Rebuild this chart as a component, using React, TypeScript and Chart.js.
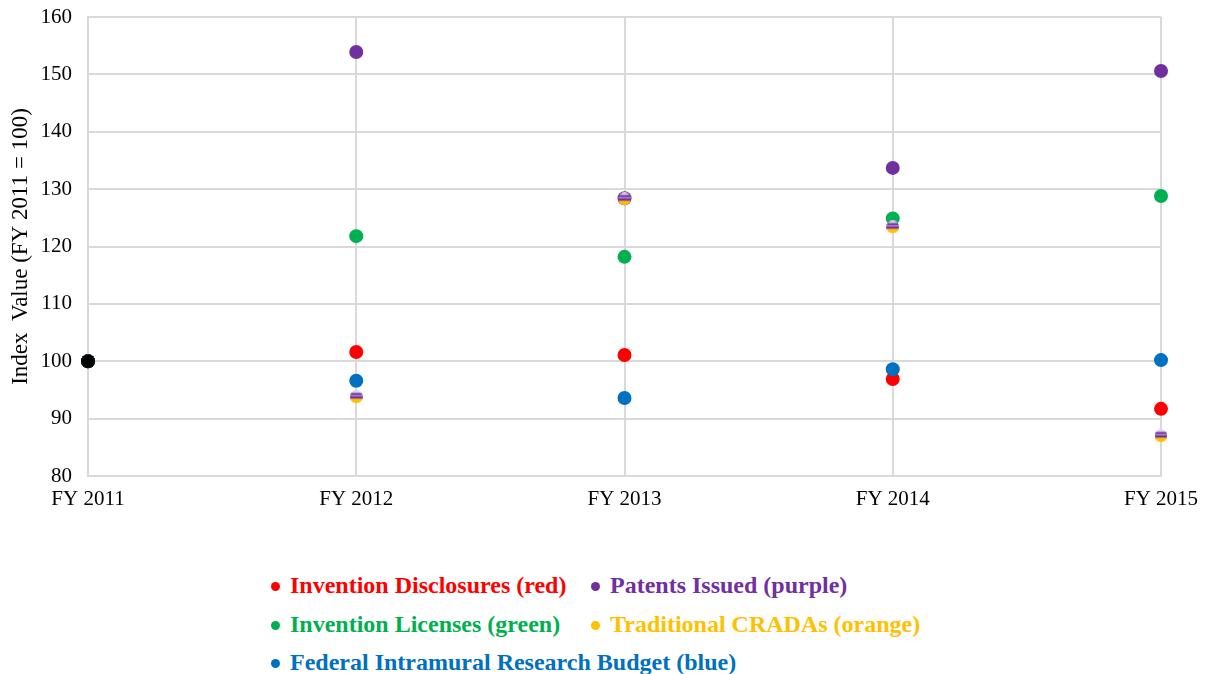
import React, { useEffect, useRef } from "react";
import { Chart, registerables } from "chart.js";

Chart.register(...registerables);

const categories = ["FY 2011", "FY 2012", "FY 2013", "FY 2014", "FY 2015"];
const inventionDisclosures = [100, 101.6, 101.1, 96.9, 91.7];
const patentsIssued = [100, 153.9, 128.4, 133.7, 150.6];
const inventionLicenses = [100, 121.8, 118.2, 124.9, 128.8];
const traditionalCRADAs = [100, 93.8, 128.3, 123.4, 87.0];
const researchBudget = [100, 96.6, 93.6, 98.6, 100.2];
const baseline = [100, null, null, null, null];
const yMin = 80;
const yMax = 160;
const yStep = 10;
const yTitle = "Index  Value (FY 2011 = 100)";

const legendItems = [
  { label: "Invention Disclosures (red)", color: "#FF0000", col: 0, row: 0 },
  { label: "Patents Issued (purple)", color: "#7030A0", col: 1, row: 0 },
  { label: "Invention Licenses (green)", color: "#00B050", col: 0, row: 1 },
  { label: "Traditional CRADAs (orange)", color: "#FFC000", col: 1, row: 1 },
  { label: "Federal Intramural Research Budget (blue)", color: "#0070C0", col: 0, row: 2 },
];

function makeStripedMarker(): HTMLCanvasElement {
  const size = 13;
  const c = document.createElement("canvas");
  c.width = size;
  c.height = size;
  const ctx = c.getContext("2d")!;
  ctx.save();
  ctx.beginPath();
  ctx.arc(size / 2, size / 2, size / 2, 0, Math.PI * 2);
  ctx.clip();
  const bands: [number, number, string][] = [
    [0, 0.2, "#ddd0ee"],
    [0.2, 0.36, "#7030A0"],
    [0.36, 0.46, "#b99bd6"],
    [0.46, 0.64, "#7030A0"],
    [0.64, 1, "#FFC000"],
  ];
  for (const [a, b, col] of bands) {
    ctx.fillStyle = col;
    ctx.fillRect(0, a * size, size, (b - a) * size + 0.5);
  }
  ctx.restore();
  return c;
}

export default function App() {
  const canvasRef = useRef<HTMLCanvasElement | null>(null);

  useEffect(() => {
    if (!canvasRef.current) return;
    const striped = makeStripedMarker();
    const pt = (color: string, order: number, style: any = "circle", r = 7) => ({
      showLine: false,
      pointStyle: style,
      pointRadius: r,
      pointHoverRadius: r,
      pointBackgroundColor: color,
      pointBorderColor: color,
      pointBorderWidth: 0,
      borderColor: color,
      backgroundColor: color,
      order,
    });
    const chart = new Chart(canvasRef.current, {
      type: "line",
      data: {
        labels: categories,
        datasets: [
          { label: "Invention Disclosures", data: inventionDisclosures, ...pt("#FF0000", 5) },
          { label: "Patents Issued", data: patentsIssued, ...pt("#7030A0", 4) },
          { label: "Invention Licenses", data: inventionLicenses, ...pt("#00B050", 3) },
          { label: "Federal Intramural Research Budget", data: researchBudget, ...pt("#0070C0", 2) },
          { label: "Traditional CRADAs", data: traditionalCRADAs, ...pt("#FFC000", 1, striped, 6) },
          { label: "FY 2011 baseline", data: baseline, ...pt("#000000", 0) },
        ],
      },
      options: {
        responsive: false,
        animation: false,
        layout: { padding: { left: 0, right: 45, top: 17, bottom: 28 } },
        plugins: {
          legend: { display: false },
          tooltip: { enabled: false },
        },
        scales: {
          x: {
            type: "category",
            offset: false,
            grid: { color: "#d9d9d9", lineWidth: 2, drawTicks: false },
            border: { color: "#d9d9d9", width: 2 },
            ticks: {
              color: "#000",
              padding: 11,
              maxRotation: 0,
              font: { family: "'Liberation Serif', 'Times New Roman', serif", size: 21 },
            },
            afterFit: (scale: any) => {
              scale.height = 36;
              scale.paddingLeft = 0;
              scale.paddingRight = 0;
            },
          },
          y: {
            min: yMin,
            max: yMax,
            grid: { color: "#d9d9d9", lineWidth: 2, drawTicks: false },
            border: { color: "#d9d9d9", width: 2 },
            ticks: {
              stepSize: yStep,
              color: "#000",
              padding: 16,
              font: { family: "'Liberation Serif', 'Times New Roman', serif", size: 21 },
            },
            title: {
              display: true,
              text: yTitle,
              color: "#000",
              padding: { top: 7, bottom: 0 },
              font: { family: "'Liberation Serif', 'Times New Roman', serif", size: 23 },
            },
            afterFit: (scale: any) => {
              scale.width = 88;
              scale.paddingTop = 0;
              scale.paddingBottom = 0;
            },
          },
        },
      },
    });
    return () => chart.destroy();
  }, []);

  const colX = [290, 610];
  const rowTop = [573, 612, 650];

  return (
    <div
      style={{
        position: "absolute",
        left: 0,
        top: 0,
        width: 1206,
        height: 674,
        background: "#fff",
        overflow: "hidden",
      }}
    >
      <canvas ref={canvasRef} width={1206} height={540} style={{ display: "block" }} />
      {legendItems.map((it) => (
        <div
          key={it.label}
          style={{
            position: "absolute",
            left: colX[it.col] - 21,
            top: rowTop[it.row],
            height: 24,
            lineHeight: "24px",
            whiteSpace: "nowrap",
            fontFamily: "'Liberation Serif', 'Times New Roman', serif",
            fontWeight: "bold",
            fontSize: 24,
            color: it.color,
          }}
        >
          <span
            style={{
              display: "inline-block",
              width: 9,
              height: 9,
              borderRadius: "50%",
              background: it.color,
              marginLeft: 2,
              marginRight: 10,
              verticalAlign: "middle",
              position: "relative",
              top: -1,
            }}
          />
          {it.label}
        </div>
      ))}
    </div>
  );
}
